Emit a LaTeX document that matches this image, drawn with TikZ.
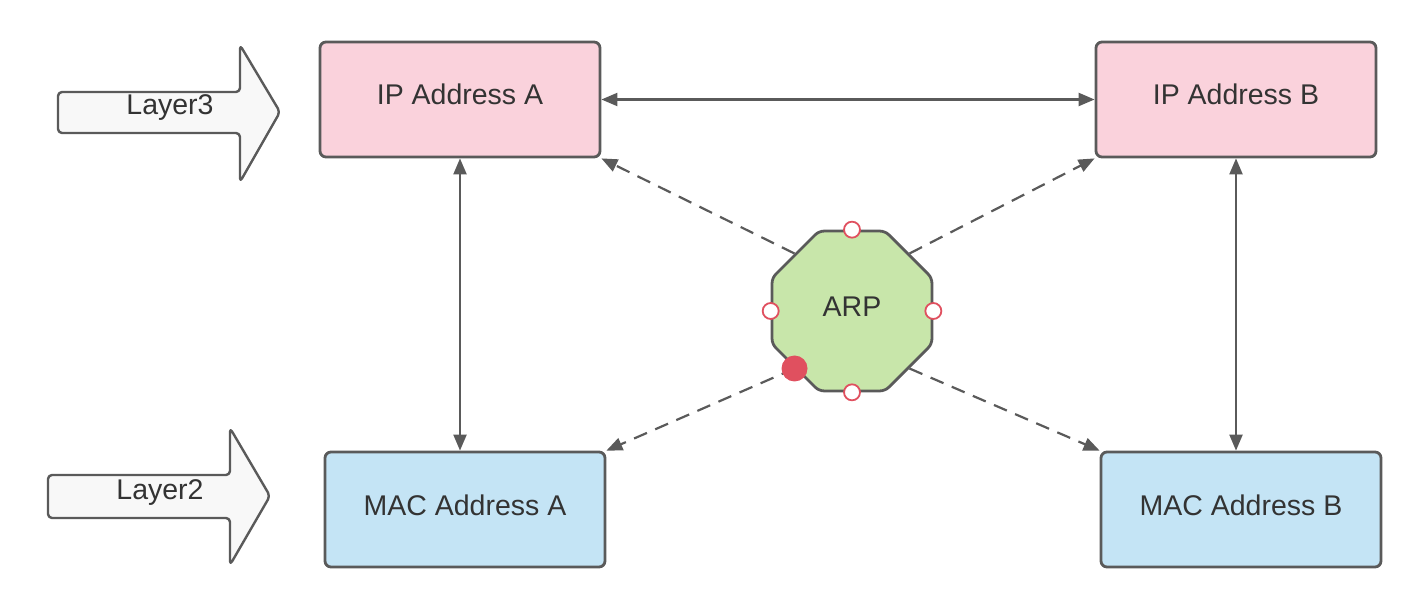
\documentclass[tikz,border=0pt]{standalone}
\usepackage{fontspec}
\setmainfont{Liberation Sans}
\usetikzlibrary{arrows.meta,shapes.geometric}
\definecolor{edgegray}{HTML}{5A5A5A}
\definecolor{txt}{HTML}{333333}
\definecolor{pinkfill}{HTML}{FAD2DC}
\definecolor{bluefill}{HTML}{C4E4F5}
\definecolor{greenfill}{HTML}{C8E6AA}
\definecolor{arrowfill}{HTML}{F8F8F8}
\definecolor{handle}{HTML}{E0505F}
\tikzset{
  lbl/.style={font=\fontsize{28.5}{32}\selectfont, text=txt, text height=1.1em, text depth=0pt, inner sep=0pt},
  addrbox/.style={lbl, draw=edgegray, line width=2.8pt, rounded corners=6pt, minimum width=280pt, minimum height=115pt},
  octa/.style={lbl, regular polygon, regular polygon sides=8, minimum size=173pt, draw=edgegray, line width=2.8pt, fill=greenfill, rounded corners=5pt},
  link/.style={draw=edgegray, line width=2.2pt, {Triangle[length=16pt,width=13pt]}-{Triangle[length=16pt,width=13pt]}},
  dlink/.style={draw=edgegray, line width=2.2pt, dash pattern=on 14pt off 9pt, -{Triangle[length=16pt,width=13pt]}},
  blockarrow/.style={draw=edgegray, line width=2.4pt, fill=arrowfill, rounded corners=4pt, line join=round},
  hollowdot/.style={circle, draw=handle, fill=white, line width=1.8pt, minimum size=16pt, inner sep=0pt},
  filldot/.style={circle, fill=handle, minimum size=26pt, inner sep=0pt}
}
\begin{document}
\begin{tikzpicture}[x=1pt,y=-1pt]
\useasboundingbox (0,0) rectangle (1424,612);
% block arrows
\draw[blockarrow] (58,92) -- (240,92) -- (240,45) -- (280,112) -- (240,182) -- (240,133) -- (58,133) -- cycle;
\node[lbl] (l3) at (170,109) {Layer3};
\draw[blockarrow] (48,475) -- (230,475) -- (230,428) -- (270,496) -- (230,565) -- (230,518) -- (48,518) -- cycle;
\node[lbl] (l2) at (160,494) {Layer2};
% boxes
\node[addrbox, fill=pinkfill] (ipa) at (460,99.5) {IP Address A};
\node[addrbox, fill=pinkfill] (ipb) at (1236,99.5) {IP Address B};
\node[addrbox, fill=bluefill] (maca) at (465,509.5) {MAC Address A};
\node[addrbox, fill=bluefill] (macb) at (1241,509.5) {MAC Address B};
% ARP
\node[octa] (arp) at (852,311) {ARP};
% solid links
\draw[link] (ipa.east) -- (ipb.west);
\draw[link] (ipa.south) -- (ipa.south |- maca.north);
\draw[link] (ipb.south) -- (ipb.south |- macb.north);
% dashed links
\draw[dlink] (arp.135) -- (ipa.south east);
\draw[dlink] (arp.45) -- (ipb.south west);
\draw[dlink] (arp.225) -- (maca.north east);
\draw[dlink] (arp.315) -- (macb.north west);
% handles
\node[hollowdot] (h1) at (arp.north) {};
\node[hollowdot] (h2) at (arp.west) {};
\node[hollowdot] (h3) at (arp.east) {};
\node[hollowdot] (h4) at (arp.south) {};
\node[filldot] (h5) at (arp.225) {};
\end{tikzpicture}
\end{document}
